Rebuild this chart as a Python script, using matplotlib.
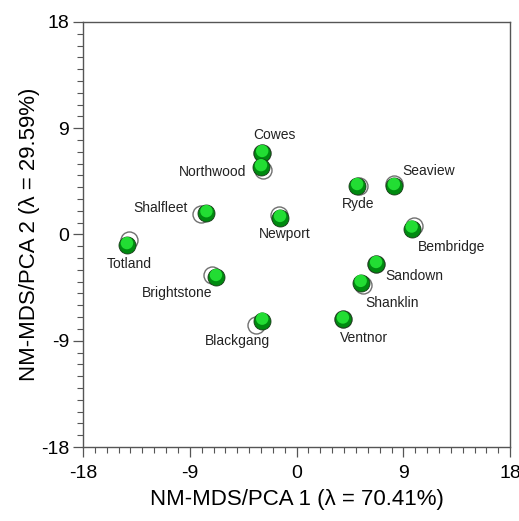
import numpy as np
import matplotlib.pyplot as plt
from matplotlib.ticker import MultipleLocator
import matplotlib.transforms as mtransforms

plt.rcParams['font.family'] = ['Liberation Sans', 'DejaVu Sans']
plt.rcParams['axes.unicode_minus'] = False

# --- data: site names and ordination scores ---
sites = ['Cowes', 'Northwood', 'Shalfleet', 'Newport', 'Totland', 'Brightstone',
         'Blackgang', 'Ryde', 'Seaview', 'Bembridge', 'Sandown', 'Shanklin', 'Ventnor']
# NM-MDS configuration (green)
mds_x = [-2.9, -3.0, -7.6, -1.4, -14.3, -6.8, -2.9, 5.1, 8.2, 9.7, 6.7, 5.4, 3.9]
mds_y = [6.9, 5.7, 1.8, 1.4, -0.9, -3.6, -7.3, 4.1, 4.1, 0.5, -2.5, -4.1, -7.2]
# PCA configuration (open circles)
pca_x = [-2.9, -2.85, -8.1, -1.5, -14.1, -7.1, -3.4, 5.3, 8.25, 9.9, 6.7, 5.6, 3.9]
pca_y = [6.9, 5.45, 1.7, 1.65, -0.5, -3.4, -7.7, 4.1, 4.3, 0.7, -2.5, -4.3, -7.2]

# label offsets in pixels + alignment
label_pos = {
    'Cowes': (12, 18, 'center'), 'Northwood': (-15, -5, 'right'),
    'Shalfleet': (-19, 5, 'right'), 'Newport': (-21, -16, 'left'),
    'Totland': (2, -19, 'center'), 'Brightstone': (-4, -16, 'right'),
    'Blackgang': (-25, -20, 'center'), 'Ryde': (1, -18, 'center'),
    'Seaview': (8, 15, 'left'), 'Bembridge': (6, -18, 'left'),
    'Sandown': (9, -12, 'left'), 'Shanklin': (5, -20, 'left'),
    'Ventnor': (-3, -19, 'left'),
}

fig = plt.figure(figsize=(5.19, 5.21), dpi=100)
ax = fig.add_axes([0.16, 0.142, 0.823, 0.816])

ax.scatter(pca_x, pca_y, s=150, facecolor='white', edgecolor='#707070', linewidth=1.0, zorder=2)
ax.scatter(mds_x, mds_y, s=150, facecolor='#008a10', edgecolor='#1a3a1a', linewidth=0.6, zorder=3)
# highlight to mimic the shaded spheres
hl = ax.transData + mtransforms.ScaledTranslation(0, 2 / 100, fig.dpi_scale_trans)
ax.scatter(mds_x, mds_y, s=80, facecolor='#22dd33', edgecolor='none', zorder=4, transform=hl)

for name, x, y in zip(sites, mds_x, mds_y):
    dx, dy, ha = label_pos[name]
    ax.annotate(name, (x, y), xytext=(dx, dy), textcoords='offset pixels',
                ha=ha, va='center', fontsize=10, color='#222222', zorder=5)

ax.set_xlim(-18, 18)
ax.set_ylim(-18, 18)
ax.set_xticks([-18, -9, 0, 9, 18])
ax.set_yticks([-18, -9, 0, 9, 18])
ax.xaxis.set_minor_locator(MultipleLocator(1))
ax.yaxis.set_minor_locator(MultipleLocator(1))
ax.tick_params(which='major', direction='out', length=7, width=0.9, color='#555555',
               labelsize=14, pad=3)
ax.tick_params(axis='x', which='major', pad=6)
ax.tick_params(which='minor', direction='out', length=4, width=0.8, color='#555555')
for sp in ax.spines.values():
    sp.set_color('#555555')
    sp.set_linewidth(1.0)

ax.set_xlabel('NM-MDS/PCA 1 (λ = 70.41%)', fontsize=16, labelpad=5)
ax.set_ylabel('NM-MDS/PCA 2 (λ = 29.59%)', fontsize=16, labelpad=1)

fig.savefig('out.png', dpi=100)
